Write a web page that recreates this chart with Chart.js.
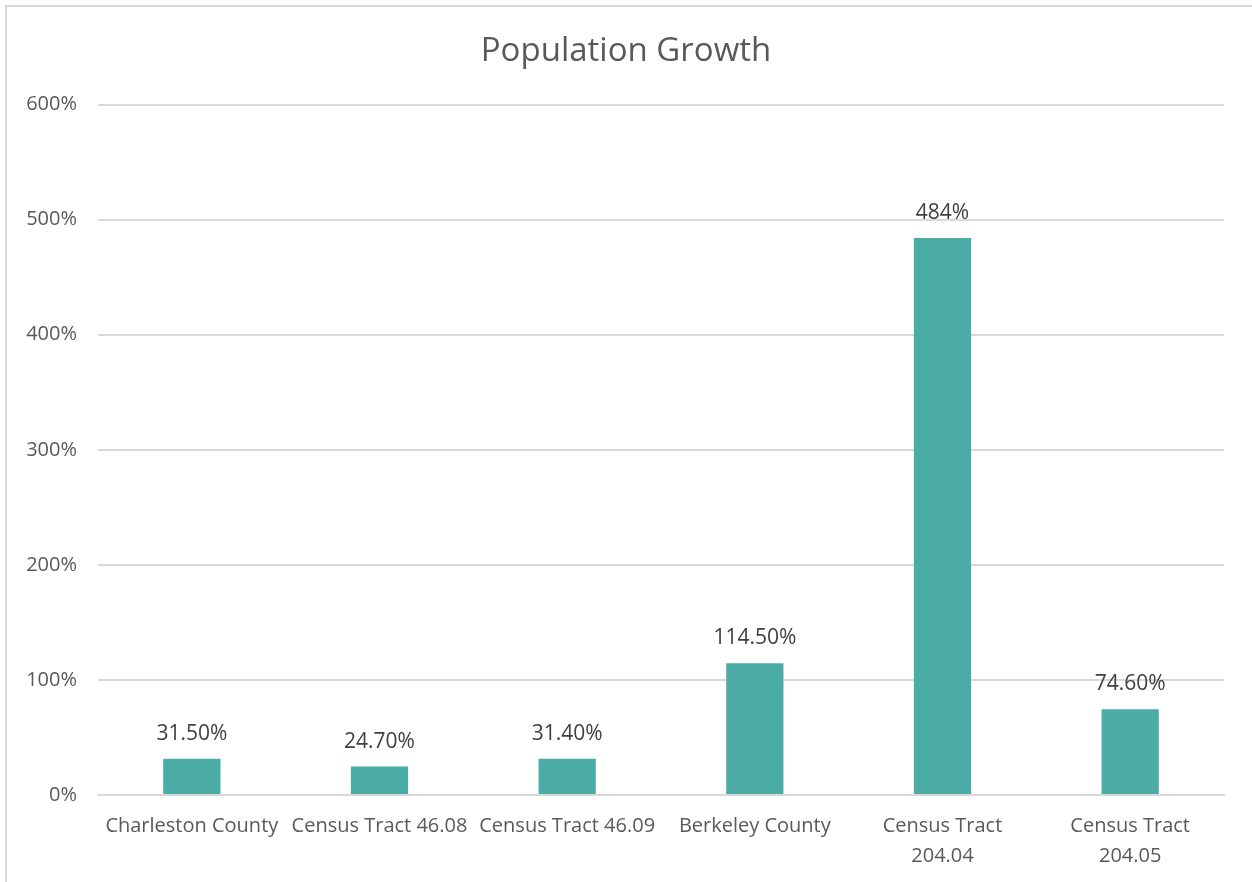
<!DOCTYPE html>
<html>
<head>
<meta charset="utf-8">
<script src="https://cdn.jsdelivr.net/npm/chart.js@4.4.0/dist/chart.umd.min.js"></script>
<style>
  html, body { margin: 0; padding: 0; background: #fff; overflow: hidden; }
  #frame {
    position: absolute; left: 5px; top: 5px;
    width: 1300px; height: 900px;
    border: 2px solid #d9d9d9;
  }
  #wrap { position: absolute; left: 0; top: 0; width: 1252px; height: 882px; }
</style>
</head>
<body>
<div id="frame"></div>
<div id="wrap"><canvas id="growthChart"></canvas></div>
<script>
const categories = [
    "Charleston County",
    "Census Tract 46.08",
    "Census Tract 46.09",
    "Berkeley County",
    ["Census Tract", "204.04"],
    ["Census Tract", "204.05"],
];
const growthValues = [31.5, 24.7, 31.4, 114.5, 484, 74.6];
const valueLabels = ["31.50%", "24.70%", "31.40%", "114.50%", "484%", "74.60%"];
const yTicks = [0, 100, 200, 300, 400, 500, 600];

const ctx = document.getElementById("growthChart");
const fontFamily = "'Open Sans', 'Noto Sans', sans-serif";

// draw value labels above each bar
const barLabels = {
    id: "barLabels",
    afterDatasetsDraw(chart) {
        const c = chart.ctx;
        const meta = chart.getDatasetMeta(0);
        c.save();
        c.font = `21px ${fontFamily}`;
        c.fillStyle = "#404040";
        c.textAlign = "center";
        c.textBaseline = "middle";
        meta.data.forEach((bar, i) => {
            c.fillText(valueLabels[i], bar.x, bar.y - 25);
        });
        c.restore();
    },
};

new Chart(ctx, {
    type: "bar",
    data: {
        labels: categories,
        datasets: [
            {
                data: growthValues,
                backgroundColor: "#4baca6",
                borderWidth: 0,
                categoryPercentage: 1,
                barPercentage: 0.305,
            },
        ],
    },
    options: {
        responsive: true,
        maintainAspectRatio: false,
        animation: false,
        layout: { padding: 0 },
        plugins: {
            legend: { display: false },
            tooltip: { enabled: false },
            title: {
                display: true,
                text: "Population Growth",
                color: "#595959",
                font: { family: fontFamily, size: 33, weight: "normal" },
                padding: { top: 32, bottom: 33 },
            },
        },
        scales: {
            x: {
                grid: { display: false, drawTicks: false },
                border: { color: "#d9d9d9", width: 2 },
                ticks: {
                    color: "#595959",
                    font: { family: fontFamily, size: 20, lineHeight: 1.5 },
                    padding: 16,
                    maxRotation: 0,
                    autoSkip: false,
                },
                afterFit: (scale) => { scale.height = 87; },
            },
            y: {
                min: 0,
                max: 600,
                afterBuildTicks: (scale) => {
                    scale.ticks = yTicks.map((v) => ({ value: v }));
                },
                grid: { color: "#d9d9d9", lineWidth: 2, drawTicks: false },
                border: { display: false },
                ticks: {
                    color: "#595959",
                    font: { family: fontFamily, size: 20 },
                    padding: 21,
                    callback: (v) => v + "%",
                },
                afterFit: (scale) => { scale.width = 98; },
            },
            // empty right axis just to keep the right margin
            yRight: {
                position: "right",
                min: 0,
                max: 600,
                grid: { display: false, drawTicks: false },
                border: { display: false },
                ticks: { display: false },
                afterFit: (scale) => { scale.width = 28; },
            },
        },
    },
    plugins: [barLabels],
});
</script>
</body>
</html>
